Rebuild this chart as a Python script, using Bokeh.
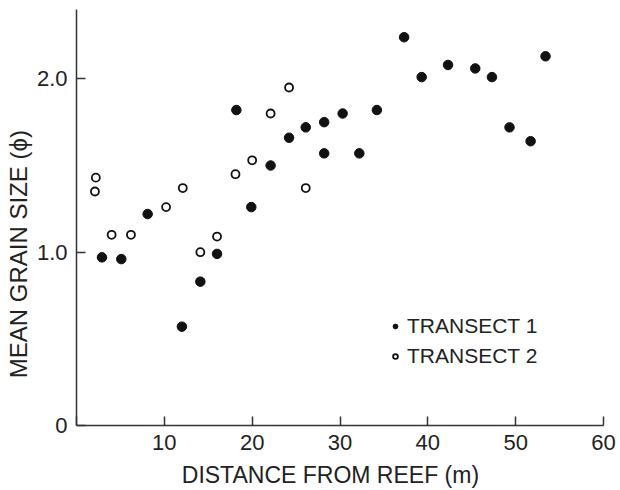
from bokeh.plotting import figure
from bokeh.models import Range1d, FixedTicker, Legend, LegendItem
from bokeh.embed import file_html
from bokeh.resources import INLINE

# Data
t1_x = [2.9, 5.1, 8.1, 12.0, 14.1, 16.0, 18.2, 19.9, 22.1, 24.2, 26.1, 28.2, 28.2,
        30.3, 32.2, 34.2, 37.3, 39.3, 42.3, 45.4, 47.3, 49.3, 51.7, 53.4]
t1_y = [0.97, 0.96, 1.22, 0.57, 0.83, 0.99, 1.82, 1.26, 1.50, 1.66, 1.72, 1.75, 1.57,
        1.80, 1.57, 1.82, 2.24, 2.01, 2.08, 2.06, 2.01, 1.72, 1.64, 2.13]
t2_x = [2.2, 2.1, 4.0, 6.2, 10.2, 12.1, 14.1, 16.0, 18.1, 20.0, 22.1, 24.2, 26.1]
t2_y = [1.43, 1.35, 1.10, 1.10, 1.26, 1.37, 1.00, 1.09, 1.45, 1.53, 1.80, 1.95, 1.37]

x_ticks = [0, 10, 20, 30, 40, 50, 60]
y_ticks = [0, 1, 2]
y_tick_labels = {0: "0", 1: "1.0", 2: "2.0"}
x_title = "DISTANCE FROM REEF (m)"
y_title = "MEAN GRAIN SIZE (\u03d5)"
series_names = ["TRANSECT 1", "TRANSECT 2"]

FONT = "Liberation Sans"
INK = "#222222"

p = figure(width=620, height=490, output_backend="svg", toolbar_location=None,
           x_range=Range1d(0, 60), y_range=Range1d(0, 2.40),
           min_border_left=76, min_border_right=17, min_border_top=9,
           min_border_bottom=64)
p.outline_line_color = None
p.xgrid.visible = False
p.ygrid.visible = False
p.background_fill_color = "white"

for ax in (p.xaxis[0], p.yaxis[0]):
    ax.axis_line_color = "#333333"
    ax.axis_line_width = 1.5
    ax.major_tick_line_color = "#333333"
    ax.major_tick_line_width = 1.5
    ax.major_tick_in = 9
    ax.major_tick_out = 0
    ax.minor_tick_line_color = None
    ax.major_label_text_font = FONT
    ax.major_label_text_font_size = "22px"
    ax.major_label_text_color = INK
    ax.axis_label_text_font = FONT
    ax.axis_label_text_font_style = "normal"
    ax.axis_label_text_color = INK

p.xaxis.ticker = FixedTicker(ticks=x_ticks)
p.xaxis.major_label_overrides = {0: ""}
p.xaxis.major_label_standoff = 9
# trailing no-break spaces nudge the centred title a little to the left
p.xaxis.axis_label = x_title + "\u00a0" * 3
p.xaxis.axis_label_text_font_size = "23px"
p.xaxis.axis_label_standoff = 9

p.yaxis.ticker = FixedTicker(ticks=y_ticks)
p.yaxis.major_label_overrides = y_tick_labels
p.yaxis.major_label_standoff = 9
# trailing no-break spaces move the centred title towards the lower part of the axis
p.yaxis.axis_label = y_title + "\u00a0" * 11
p.yaxis.axis_label_text_font_size = "24px"
p.yaxis.axis_label_standoff = 2

r1 = p.scatter(t1_x, t1_y, marker="circle", size=9.5, fill_color="#111111",
               line_color="#111111", line_width=1)
r2 = p.scatter(t2_x, t2_y, marker="circle", size=8, fill_color="white",
               line_color="#111111", line_width=1.8)

legend = Legend(items=[LegendItem(label=series_names[0], renderers=[r1]),
                       LegendItem(label=series_names[1], renderers=[r2])],
                location=(313, 57), orientation="vertical")
legend.glyph_width = 12
legend.glyph_height = 20
legend.label_height = 20
legend.label_standoff = 6
legend.spacing = 6
legend.padding = 0
legend.margin = 0
legend.border_line_color = None
legend.background_fill_alpha = 0
legend.label_text_font = FONT
legend.label_text_font_size = "21px"
legend.label_text_color = INK
p.add_layout(legend)

open("out.html", "w").write(file_html(p, INLINE))
